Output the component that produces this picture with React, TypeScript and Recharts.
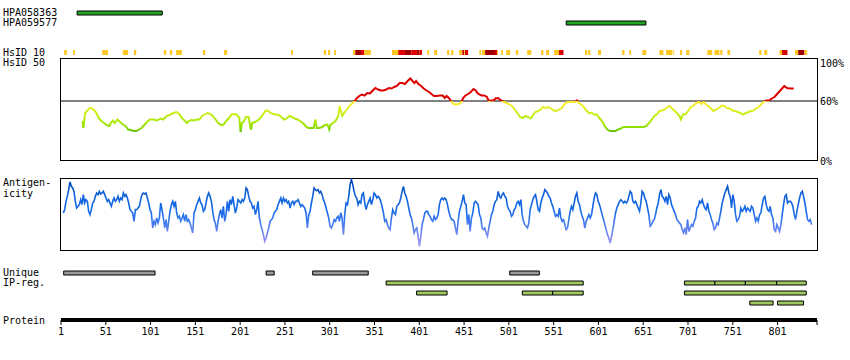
import React from 'react';
import { ComposedChart, Line, XAxis, YAxis, ReferenceArea, ReferenceLine } from 'recharts';

const PROTEIN_LEN = 845;
const FONT = '"DejaVu Sans Mono", monospace';
const LEFT = 61;
const RIGHT = 33;
const BAR_H = 0.4; // bar thickness, in track rows

// antibody targets
const antibodies: Array<{ name: string; start: number; end: number; row: number }> = [
  { name: 'HPA058363', start: 19, end: 114, row: 1 },
  { name: 'HPA059577', start: 565, end: 654, row: 2 },
];

// HsID 10 hits: [start, end, level]  1 = orange, 2 = red, 3 = dark red
const hsid10: Array<[number, number, number]> = [
  [4.5, 7.5, 1], [14.5, 16.5, 1], [47, 53.5, 1], [70, 76, 1], [82.5, 85, 1], [116, 118.5, 1],
  [122.5, 125, 1], [129.5, 136, 1], [159.5, 162, 1], [183, 186.5, 1], [258, 260, 1], [294.5, 297, 1],
  [299, 301.5, 1], [306, 308, 1], [327, 329.5, 1], [329.5, 336, 3], [336, 339.5, 2], [339.5, 347, 1],
  [370.5, 377.5, 1], [377.5, 385, 2], [385, 392, 3], [392, 398.5, 2], [398.5, 401, 3], [401, 404, 2],
  [410, 412, 1], [417.5, 421, 1], [432, 434.5, 1], [436.5, 439, 1], [445.5, 449, 1], [449, 451, 2],
  [451, 452, 1], [452, 455.5, 2], [468, 470, 1], [471, 474.5, 1], [474.5, 485.5, 3], [485.5, 488, 2],
  [488, 489, 1], [492.5, 494.5, 1], [498, 502.5, 1], [509, 511.5, 1], [521.5, 526, 1], [537, 539.5, 1],
  [542.5, 546, 1], [551.5, 557, 1], [557, 562, 2], [586, 588.5, 1], [589.5, 592, 1], [600.5, 604, 1],
  [627.5, 630, 1], [635.5, 637.5, 1], [650, 654.5, 1], [669, 673.5, 1], [676.5, 683.5, 1], [684.5, 685.5, 1],
  [692, 694.5, 1], [699, 702.5, 1], [722.5, 728, 1], [730.5, 736, 1], [737, 739.5, 1], [745, 748, 1],
  [780.5, 783, 1], [786, 789.5, 1], [803, 806, 1], [806, 812, 2], [820.5, 824, 1], [824, 831, 3],
  [831, 834, 1],
];
const hsidColors: Record<number, string> = { 1: '#FFC820', 2: '#DD0000', 3: '#A00000' };

// HsID 50 identity (%) along the sequence: [residue, percent]
const hsid50: Array<[number, number]> = [
  [25, 40], [26, 33], [28, 48], [30, 50], [33, 53], [36, 52.5], [39, 50], [41, 47], [43, 43], [46, 40],
  [49, 38], [52, 36], [55, 35], [56.5, 38], [59, 40.5], [61, 38], [64, 41.5], [67, 39], [70, 36.5], [73, 35],
  [76, 31.5], [79, 31], [82, 30], [85, 30], [88, 31.5], [91, 33], [94, 36], [97, 39], [100, 41.5], [104, 41.5],
  [108, 40.5], [112, 42.5], [115, 41.5], [119, 45], [123, 46.5], [126.5, 48], [130, 49], [133, 47], [136, 43],
  [139, 40.5], [141.5, 38], [143.5, 40], [146.5, 41], [149.5, 40.5], [152.5, 41.5], [155.5, 41.5], [158.5, 45],
  [161.5, 46.5], [164.5, 48], [167.5, 47], [170.5, 45], [173.5, 41.5], [176.5, 38], [179.5, 36], [182.5, 36.5],
  [185.5, 40], [188.5, 43], [191.5, 46.5], [194, 47], [197, 46.5], [200, 43], [201.5, 29], [203, 38],
  [205.5, 40], [207.5, 44], [210.5, 44], [213, 31.5], [214.5, 38], [217.5, 39], [220.5, 40.5], [223.5, 43],
  [226.5, 46.5], [229, 50], [232, 50.5], [235, 48], [238, 47], [241, 46.5], [244, 46], [247, 44], [250, 41.5],
  [253, 42.5], [256, 45], [259, 44], [262, 42.5], [265, 41.5], [268, 40], [271, 38], [274, 35], [277, 33],
  [280, 33], [283, 33], [285, 41.5], [286.5, 33], [289.5, 33], [292.5, 34], [295.5, 36], [298.5, 36.5],
  [300.5, 31.5], [302, 36.5], [304.5, 38], [307.5, 40], [310.5, 45], [312, 55], [313.5, 50], [315, 45],
  [317, 48], [320, 51.5], [323, 55], [326, 57.5], [329, 60], [331, 62.5], [334, 65], [337, 66.5], [340, 65.5],
  [343, 68], [346, 67.5], [349, 70.5], [352, 73], [355, 71.5], [358, 70.5], [361, 70.5], [364, 71.5], [367, 73],
  [370, 72.5], [373, 74], [376, 75], [379, 78], [382, 78], [385, 77], [388, 80], [391, 82.5], [393, 80.5],
  [395.5, 78], [397.5, 80], [400, 77], [403, 75], [406, 72.5], [409, 70.5], [412, 69], [414.5, 67], [417.5, 65],
  [420.5, 65], [424, 65.5], [427, 65.5], [429.5, 63], [431.5, 65], [434, 63], [436, 60.5], [439, 57],
  [442, 56.5], [445, 57], [448, 59], [450, 63], [452.5, 65.5], [455.5, 67], [458.5, 69], [461.5, 72],
  [464, 70.5], [466, 68], [468, 66.5], [470.5, 65.5], [473.5, 65.5], [476.5, 64], [478.5, 60], [481, 60.5],
  [484, 60.5], [486, 62.5], [489, 63], [491, 61.5], [493.5, 60], [496, 59], [498.5, 58], [501.5, 56.5],
  [504.5, 55], [507.5, 51.5], [510.5, 48], [513.5, 44], [516.5, 43], [519.5, 45], [522.5, 44], [525.5, 42.5],
  [528.5, 46.5], [530.5, 49], [533.5, 50], [536.5, 51.5], [539, 54], [542, 53], [545, 54], [548, 52.5],
  [551, 50.5], [554, 50], [557, 51.5], [560, 53], [563, 56.5], [566, 59], [569, 59], [572, 59], [575, 59],
  [577, 60.5], [579, 58], [582, 56.5], [584.5, 54], [587.5, 50.5], [590.5, 48], [593.5, 48], [596.5, 46.5],
  [599.5, 46], [602, 43], [605, 40], [608, 35], [611, 31.5], [614, 30], [617, 30], [620, 30], [623, 31.5],
  [626, 32.5], [629, 34], [636.5, 34], [644, 34], [651.5, 34], [654.5, 35], [657.5, 38], [660.5, 41.5],
  [663.5, 45], [666.5, 47], [669, 50], [672, 50.5], [675, 51.5], [678, 54], [680.5, 55], [682.5, 53],
  [685.5, 50.5], [688.5, 48], [691.5, 45], [693, 41.5], [695.5, 46.5], [698.5, 47], [701.5, 50.5], [704, 54],
  [707, 55], [710, 58], [713, 59], [716, 57], [718.5, 59], [720.5, 57], [723.5, 55], [726.5, 52.5],
  [729.5, 50], [732.5, 51.5], [735.5, 53], [738.5, 55.5], [741.5, 55], [744.5, 53], [747.5, 52.5],
  [750.5, 50.5], [753.5, 50], [756.5, 49], [759.5, 48], [762.5, 46.5], [765.5, 48], [768.5, 49], [771.5, 50],
  [774, 50.5], [777, 52.5], [780, 54], [783, 57], [785.5, 59], [788.5, 60.5], [791.5, 60.5], [794.5, 62.5],
  [797.5, 64], [800.5, 67], [803.5, 70], [806.5, 73], [808.5, 75], [811.5, 73], [814.5, 72.5], [819, 72.5],
];

// antigenicity score (0-216 scale), sampled every ANTIGEN_STEP residues
const ANTIGEN_STEP = 1.489;
const ANTIGEN_A_START = 3.6;
const antigenA = [
  111, 121, 146, 161, 181, 204, 191, 186, 176, 146, 126, 131, 136, 151, 136, 166, 141, 151, 146, 116,
  106, 121, 141, 146, 161, 171, 166, 176, 168, 171, 176, 166, 156, 146, 151, 141, 131, 146, 156, 146,
  151, 161, 146, 156, 151, 171, 161, 166, 156, 141, 121, 116, 111, 86, 121, 121, 126, 131, 151, 166,
  171, 168, 171, 156, 141, 121, 111, 66, 86, 76, 96, 81, 96, 141, 121, 96, 66, 91, 56, 86,
  116, 136, 146, 131, 146, 111, 96, 101, 86, 96, 106, 86, 106, 86, 91, 81, 66, 51, 111, 121,
  136, 146, 156, 141, 136, 116, 121, 141, 161, 171, 161, 146, 116, 91, 81, 56, 86, 106, 121, 96,
  131, 86, 106, 146, 116, 151, 136, 161, 136, 111, 126, 151, 146, 141, 151, 146, 156, 186, 181, 161,
  146, 141, 126, 131, 106, 121, 146, 96, 76, 61, 46, 26, 36, 51, 66, 86, 91, 96, 111, 116,
  121, 136, 146, 156, 141, 156, 146, 151, 141, 146, 126, 141, 146, 136, 146, 146, 151, 141, 131, 136,
  131, 126, 111, 66, 106, 116, 141, 161, 186, 181, 178, 181, 171, 176, 166, 151, 141, 126, 111, 96,
  71, 66, 76, 91, 86, 96, 101, 86, 111, 96, 46, 106, 141, 136, 161, 196, 211, 196, 176, 161,
  156, 136, 146, 141, 166, 171, 141, 121, 136, 146, 156, 136, 151, 171, 166, 156, 161, 156, 146, 131,
  111, 86, 91, 76, 66, 61, 96, 121, 111, 106, 131, 136, 141, 156, 176, 191, 171, 161, 146, 126,
  106, 96, 76, 51, 61, 66, 41, 11, 41, 76, 91, 111, 116, 116, 106, 101, 91, 86, 101, 91,
  96, 106, 136,
];
const ANTIGEN_B_START = 425.0;
const antigenB = [
  151, 156, 151, 156, 151, 136, 116, 101, 91, 91, 86, 66, 46, 86, 116, 131, 146, 166, 141, 136,
  76, 106, 56, 96, 111, 141, 146, 141, 136, 106, 96, 66, 61, 66, 51, 41, 66, 86, 106, 116,
  136, 146, 151, 176, 161, 156, 166, 171, 161, 156, 131, 121, 116, 101, 106, 121, 126, 141, 146, 136,
  151, 106, 86, 76, 71, 66, 81, 121, 136, 151, 161, 166, 146, 121, 116, 141, 156, 166, 181, 176,
  171, 161, 156, 141, 131, 116, 101, 106, 101, 126, 96, 86, 91, 76, 61, 66, 91, 116, 131, 121,
  141, 161, 171, 146, 136, 116, 101, 91, 66, 86, 96, 106, 96, 106, 131, 156, 171, 166, 146, 136,
  121, 106, 91, 76, 61, 46, 36, 21, 41, 61, 86, 111, 126, 136, 146, 151, 146, 141, 146, 141,
  146, 161, 176, 171, 146, 141, 146, 136, 126, 116, 141, 176, 171, 156, 146, 126, 106, 71, 76, 86,
  91, 106, 126, 141, 166, 181, 161, 156, 146, 161, 136, 166, 156, 136, 126, 116, 106, 91, 86, 81,
  76, 61, 51, 66, 46, 91, 56, 66, 76, 71, 86, 96, 126, 131, 146, 141, 151, 136, 126, 121,
  141, 116, 106, 91, 81, 61, 66, 81, 76, 96, 116, 141, 156, 171, 181, 191, 171, 161, 126, 166,
  146, 106, 86, 91, 101, 126, 116, 121, 131, 116, 126, 121, 116, 131, 126, 106, 86, 96, 86, 106,
  111, 136, 156, 161, 136, 121, 116, 131, 106, 96, 61, 56, 76, 66, 56, 76, 106, 136, 161, 166,
  141, 146, 146, 141, 131, 106, 91, 116, 136, 156, 171, 176, 161, 141, 116, 91, 86, 91, 76,
];

const uniqueRegions: Array<[number, number]> = [[4, 106], [230, 239], [282, 344], [502, 535]];
// IP-reg segments: [start, end, row]
const ipRegions: Array<[number, number, number]> = [
  [364, 584, 2], [697, 731, 2], [731, 765, 2], [765, 800, 2], [800, 833, 2],
  [398, 432, 3], [516, 550, 3], [550, 584, 3], [697, 833, 3],
  [770, 796, 4], [801, 830, 4],
];

const proteinTicks = [1, 51, 101, 151, 201, 251, 301, 351, 401, 451, 501, 551, 601, 651, 701, 751, 801, 845];
const pctTicks = [0, 60, 100];

const hsRows = hsid50.map(([r, v]) => ({ r, v }));
const antigenRows = [
  ...antigenA.map((v, i) => ({ r: ANTIGEN_A_START + i * ANTIGEN_STEP, v })),
  ...antigenB.map((v, i) => ({ r: ANTIGEN_B_START + i * ANTIGEN_STEP, v })),
];

const labelStyle: React.CSSProperties = {
  position: 'absolute', left: 3, fontFamily: FONT, fontSize: 10, lineHeight: '10px', color: '#000', whiteSpace: 'pre',
};

const leftLabels: Array<[string, number]> = [
  ['HPA058363', 8], ['HPA059577', 18], ['HsID 10', 48], ['HsID 50', 58],
  ['Antigen-', 178], ['icity', 189], ['Unique', 268], ['IP-reg.', 278], ['Protein', 316],
];

function PctTick(props: any) {
  const { x, y, payload } = props;
  return (
    <text x={x} y={y + (payload.value === 100 ? 6 : 4)} fontFamily={FONT} fontSize={10} fill="#000" textAnchor="start">
      {payload.value}%
    </text>
  );
}

function Box({ top, height }: { top: number; height: number }) {
  return (
    <div style={{ position: 'absolute', left: 60, top, width: 758, height, border: '1px solid #000', boxSizing: 'border-box' }} />
  );
}

// a track panel: rows of range bars on the shared residue axis
function Tracks({ top, rows, children }: { top: number; rows: number; children: React.ReactNode }) {
  const frame = [{ r: 1, y: 0 }, { r: PROTEIN_LEN, y: rows }];
  return (
    <div style={{ position: 'absolute', left: 0, top }}>
      <ComposedChart width={850} height={rows * 10} data={frame} margin={{ top: 0, bottom: 0, left: LEFT, right: RIGHT }}>
        <XAxis hide type="number" dataKey="r" domain={[1, PROTEIN_LEN]} allowDataOverflow />
        <YAxis hide type="number" dataKey="y" domain={[0, rows]} reversed allowDataOverflow />
        <Line dataKey="y" stroke="none" dot={false} activeDot={false} isAnimationActive={false} />
        {children}
      </ComposedChart>
    </div>
  );
}

export default function App() {
  return (
    <div style={{ position: 'absolute', left: 0, top: 0, width: 850, height: 360, background: '#fff' }}>
      {leftLabels.map(([t, top]) => (
        <div key={t} style={{ ...labelStyle, top }}>{t}</div>
      ))}
      <Box top={58} height={103} />
      <Box top={178} height={73} />

      {/* antibodies */}
      <Tracks top={0.5} rows={3}>
        {antibodies.map((a) => (
          <ReferenceArea key={a.name} x1={a.start} x2={a.end} y1={a.row} y2={a.row + BAR_H}
            fill="#22A522" fillOpacity={1} stroke="#000" strokeWidth={1} ifOverflow="visible" />
        ))}
      </Tracks>

      {/* HsID 10 */}
      <Tracks top={50} rows={1}>
        {hsid10.map(([s, e, l], i) => (
          <ReferenceArea key={i} x1={s} x2={e} y1={0} y2={0.5}
            fill={hsidColors[l]} fillOpacity={1} stroke="none" ifOverflow="visible" />
        ))}
      </Tracks>

      {/* HsID 50 */}
      <div style={{ position: 'absolute', left: 0, top: 50.5 }}>
        <ComposedChart width={850} height={120} data={hsRows} margin={{ top: 10, bottom: 10, left: LEFT, right: 0 }}>
          <defs>
            <linearGradient id="hsGrad" gradientUnits="userSpaceOnUse" x1="0" y1="10" x2="0" y2="110">
              <stop offset="0" stopColor="#DD0000" />
              <stop offset="0.397" stopColor="#DD0000" />
              <stop offset="0.40" stopColor="#FFE82A" />
              <stop offset="0.45" stopColor="#EEEE28" />
              <stop offset="0.50" stopColor="#D6EE1C" />
              <stop offset="0.56" stopColor="#BCEC10" />
              <stop offset="0.62" stopColor="#A6E806" />
              <stop offset="0.67" stopColor="#8ADC00" />
              <stop offset="0.71" stopColor="#5EBE0C" />
              <stop offset="1" stopColor="#40A000" />
            </linearGradient>
          </defs>
          <XAxis hide type="number" dataKey="r" domain={[1, PROTEIN_LEN]} />
          <YAxis orientation="right" width={RIGHT} type="number" domain={[0, 100]} ticks={pctTicks} interval={0}
            axisLine={false} tickLine={false} tickSize={0} tickMargin={3} tick={<PctTick />} />
          <ReferenceLine y={60} stroke="#000" strokeWidth={1} />
          <Line type="linear" dataKey="v" stroke="url(#hsGrad)" strokeWidth={2} dot={false} isAnimationActive={false} />
        </ComposedChart>
      </div>

      {/* Antigenicity */}
      <div style={{ position: 'absolute', left: 0, top: 178 }}>
        <ComposedChart width={850} height={72} data={antigenRows} margin={{ top: 0, bottom: 0, left: LEFT, right: RIGHT }}>
          <defs>
            <linearGradient id="agGrad" gradientUnits="userSpaceOnUse" x1="0" y1="0" x2="0" y2="72">
              <stop offset="0" stopColor="#0040B0" />
              <stop offset="0.12" stopColor="#0652C8" />
              <stop offset="0.25" stopColor="#1062DC" />
              <stop offset="0.45" stopColor="#166AE8" />
              <stop offset="0.58" stopColor="#3576EE" />
              <stop offset="0.70" stopColor="#5A80F0" />
              <stop offset="0.82" stopColor="#8088F4" />
              <stop offset="1" stopColor="#A8A0FC" />
            </linearGradient>
          </defs>
          <XAxis hide type="number" dataKey="r" domain={[1, PROTEIN_LEN]} />
          <YAxis hide type="number" domain={[0, 216]} />
          <Line type="linear" dataKey="v" stroke="url(#agGrad)" strokeWidth={1.6} dot={false} isAnimationActive={false} />
        </ComposedChart>
      </div>

      {/* Unique / IP-reg */}
      <Tracks top={260.5} rows={5}>
        {uniqueRegions.map(([s, e], i) => (
          <ReferenceArea key={'u' + i} x1={s} x2={e} y1={1} y2={1 + BAR_H}
            fill="#999999" fillOpacity={1} stroke="#000" strokeWidth={1} ifOverflow="visible" />
        ))}
        {ipRegions.map(([s, e, row], i) => (
          <ReferenceArea key={'p' + i} x1={s} x2={e} y1={row} y2={row + BAR_H}
            fill="#A0C860" fillOpacity={1} stroke="#000" strokeWidth={1} ifOverflow="visible" />
        ))}
      </Tracks>

      {/* Protein axis */}
      <div style={{ position: 'absolute', left: 0, top: 300 }}>
        <ComposedChart width={850} height={45} data={[{ r: 1 }, { r: PROTEIN_LEN }]} margin={{ top: 0, bottom: 0, left: LEFT, right: RIGHT }}>
          <XAxis type="number" dataKey="r" domain={[1, PROTEIN_LEN]} ticks={proteinTicks} interval={0} height={25}
            axisLine={{ stroke: '#000', strokeWidth: 4 }} tickLine={{ stroke: '#000' }} tickSize={5} tickMargin={3}
            tick={{ fontSize: 10, fontFamily: FONT, fill: '#000' }}
            tickFormatter={(v: number) => (v === PROTEIN_LEN ? '' : String(v))} />
          <YAxis hide type="number" domain={[0, 1]} />
        </ComposedChart>
      </div>
    </div>
  );
}
